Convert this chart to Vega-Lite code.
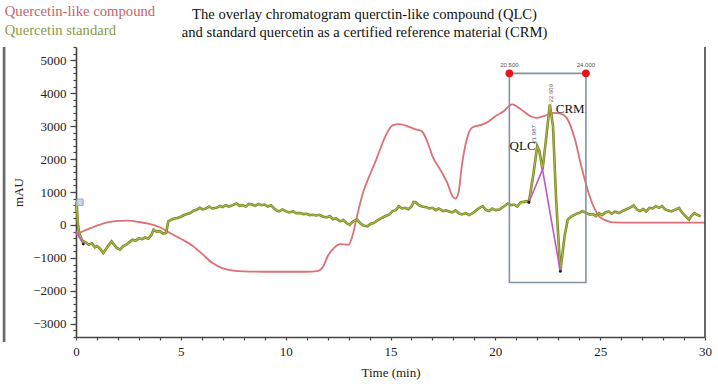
{
  "$schema": "https://vega.github.io/schema/vega-lite/v6.json",
  "width": 629,
  "height": 290,
  "autosize": {"type": "none"},
  "padding": {"left": 76, "top": 47, "right": 13, "bottom": 47},
  "background": "white",
  "config": {"view": {"stroke": null}, "font": "Liberation Serif"},
  "title": {
    "text": ["The overlay chromatogram querctin-like compound (QLC)", "and standard quercetin as a certified reference material (CRM)"],
    "anchor": "middle",
    "dx": -26,
    "dy": 43,
    "offset": 8,
    "font": "Liberation Serif",
    "fontSize": 14.6,
    "fontWeight": "normal",
    "lineHeight": 18,
    "color": "#111111"
  },
  "datasets": {
    "qlc": [
      {"t":0,"v":-280},{"t":0.5,"v":-150},{"t":1,"v":-20},{"t":1.5,"v":80},{"t":2,"v":125},{"t":2.5,"v":130},{"t":3,"v":90},{"t":3.5,"v":30},{"t":4,"v":-70},{"t":4.5,"v":-250},{"t":5,"v":-420},{"t":5.6,"v":-650},{"t":6,"v":-870},{"t":6.5,"v":-1150},{"t":7,"v":-1320},{"t":7.5,"v":-1385},{"t":8,"v":-1410},{"t":9,"v":-1420},{"t":10,"v":-1420},{"t":11,"v":-1420},{"t":11.5,"v":-1400},{"t":11.8,"v":-1250},{"t":12,"v":-950},{"t":12.3,"v":-700},{"t":12.6,"v":-580},{"t":13,"v":-600},{"t":13.2,"v":-300},{"t":13.4,"v":260},{"t":13.7,"v":1000},{"t":14,"v":1500},{"t":14.3,"v":1950},{"t":14.5,"v":2290},{"t":14.8,"v":2750},{"t":15.1,"v":3020},{"t":15.4,"v":3060},{"t":15.8,"v":3000},{"t":16.2,"v":2900},{"t":16.5,"v":2840},{"t":16.8,"v":2450},{"t":17,"v":2090},{"t":17.4,"v":1650},{"t":17.7,"v":1290},{"t":17.95,"v":880},{"t":18.1,"v":800},{"t":18.25,"v":1000},{"t":18.4,"v":1780},{"t":18.6,"v":2500},{"t":18.9,"v":2960},{"t":19.4,"v":3050},{"t":19.7,"v":3150},{"t":20,"v":3300},{"t":20.4,"v":3450},{"t":20.8,"v":3660},{"t":21.2,"v":3520},{"t":21.6,"v":3330},{"t":21.95,"v":3250},{"t":22.3,"v":3300},{"t":22.8,"v":3400},{"t":23.1,"v":3380},{"t":23.4,"v":3250},{"t":23.8,"v":2590},{"t":24.1,"v":1780},{"t":24.5,"v":870},{"t":24.95,"v":260},{"t":25.3,"v":130},{"t":25.6,"v":80},{"t":26.5,"v":70},{"t":28,"v":70},{"t":30,"v":70}
    ],
    "std": [
      {"t":0,"v":450},{"t":0.03,"v":700},{"t":0.08,"v":100},{"t":0.15,"v":-250},{"t":0.3,"v":-480},{"t":0.45,"v":-520},{"t":0.6,"v":-600},{"t":0.75,"v":-560},{"t":0.9,"v":-680},{"t":1,"v":-640},{"t":1.15,"v":-720},{"t":1.3,"v":-850},{"t":1.4,"v":-760},{"t":1.55,"v":-620},{"t":1.7,"v":-500},{"t":1.8,"v":-580},{"t":1.95,"v":-700},{"t":2.1,"v":-750},{"t":2.25,"v":-640},{"t":2.4,"v":-600},{"t":2.55,"v":-520},{"t":2.7,"v":-450},{"t":2.85,"v":-480},{"t":3,"v":-400},{"t":3.15,"v":-430},{"t":3.3,"v":-380},{"t":3.45,"v":-420},{"t":3.6,"v":-300},{"t":3.7,"v":-140},{"t":3.85,"v":-200},{"t":4,"v":-190},{"t":4.15,"v":-260},{"t":4.3,"v":-240},{"t":4.4,"v":110},{"t":4.55,"v":160},{"t":4.7,"v":200},{"t":4.85,"v":210},{"t":5,"v":250},{"t":5.15,"v":300},{"t":5.3,"v":330},{"t":5.45,"v":360},{"t":5.6,"v":430},{"t":5.75,"v":460},{"t":5.9,"v":520},{"t":6.05,"v":470},{"t":6.2,"v":500},{"t":6.35,"v":560},{"t":6.5,"v":500},{"t":6.7,"v":520},{"t":6.85,"v":580},{"t":7,"v":540},{"t":7.15,"v":600},{"t":7.3,"v":560},{"t":7.5,"v":610},{"t":7.65,"v":650},{"t":7.8,"v":580},{"t":7.95,"v":600},{"t":8.1,"v":560},{"t":8.25,"v":640},{"t":8.4,"v":620},{"t":8.55,"v":580},{"t":8.7,"v":640},{"t":8.85,"v":600},{"t":9,"v":620},{"t":9.15,"v":560},{"t":9.3,"v":600},{"t":9.45,"v":500},{"t":9.6,"v":430},{"t":9.7,"v":410},{"t":9.85,"v":470},{"t":10,"v":420},{"t":10.15,"v":380},{"t":10.35,"v":410},{"t":10.5,"v":360},{"t":10.7,"v":360},{"t":10.85,"v":330},{"t":11,"v":340},{"t":11.15,"v":300},{"t":11.3,"v":310},{"t":11.45,"v":290},{"t":11.6,"v":310},{"t":11.8,"v":250},{"t":11.95,"v":230},{"t":12.1,"v":270},{"t":12.25,"v":180},{"t":12.4,"v":200},{"t":12.6,"v":110},{"t":12.75,"v":150},{"t":12.9,"v":60},{"t":13.05,"v":0},{"t":13.2,"v":100},{"t":13.4,"v":160},{"t":13.55,"v":60},{"t":13.7,"v":-20},{"t":13.9,"v":-40},{"t":14.05,"v":40},{"t":14.2,"v":60},{"t":14.4,"v":150},{"t":14.6,"v":220},{"t":14.8,"v":280},{"t":14.95,"v":320},{"t":15.1,"v":420},{"t":15.25,"v":450},{"t":15.4,"v":570},{"t":15.55,"v":500},{"t":15.7,"v":520},{"t":15.85,"v":480},{"t":16,"v":560},{"t":16.1,"v":700},{"t":16.2,"v":690},{"t":16.35,"v":600},{"t":16.5,"v":560},{"t":16.7,"v":540},{"t":16.85,"v":500},{"t":17,"v":520},{"t":17.15,"v":450},{"t":17.3,"v":500},{"t":17.5,"v":420},{"t":17.65,"v":440},{"t":17.8,"v":410},{"t":17.95,"v":380},{"t":18.1,"v":440},{"t":18.25,"v":360},{"t":18.4,"v":320},{"t":18.6,"v":360},{"t":18.75,"v":300},{"t":18.9,"v":350},{"t":19.1,"v":450},{"t":19.25,"v":520},{"t":19.4,"v":570},{"t":19.55,"v":460},{"t":19.7,"v":420},{"t":19.85,"v":500},{"t":20,"v":450},{"t":20.2,"v":470},{"t":20.4,"v":560},{"t":20.6,"v":650},{"t":20.75,"v":600},{"t":20.9,"v":620},{"t":21.05,"v":560},{"t":21.2,"v":680},{"t":21.35,"v":700},{"t":21.5,"v":720},{"t":21.6,"v":690},{"t":21.8,"v":1480},{"t":22,"v":2390},{"t":22.1,"v":2250},{"t":22.25,"v":1680},{"t":22.4,"v":2500},{"t":22.6,"v":3660},{"t":22.75,"v":3000},{"t":22.9,"v":770},{"t":23.1,"v":-1410},{"t":23.3,"v":-350},{"t":23.45,"v":160},{"t":23.6,"v":250},{"t":23.75,"v":300},{"t":23.9,"v":350},{"t":24,"v":360},{"t":24.15,"v":420},{"t":24.3,"v":380},{"t":24.5,"v":310},{"t":24.65,"v":330},{"t":24.8,"v":270},{"t":24.95,"v":360},{"t":25.1,"v":300},{"t":25.25,"v":380},{"t":25.4,"v":410},{"t":25.55,"v":340},{"t":25.7,"v":400},{"t":25.9,"v":360},{"t":26.05,"v":420},{"t":26.2,"v":460},{"t":26.4,"v":520},{"t":26.6,"v":590},{"t":26.75,"v":470},{"t":26.9,"v":420},{"t":27.05,"v":480},{"t":27.2,"v":410},{"t":27.35,"v":520},{"t":27.5,"v":500},{"t":27.65,"v":570},{"t":27.8,"v":520},{"t":27.95,"v":570},{"t":28.1,"v":470},{"t":28.25,"v":440},{"t":28.4,"v":410},{"t":28.55,"v":460},{"t":28.76,"v":520},{"t":28.9,"v":380},{"t":29.08,"v":260},{"t":29.24,"v":160},{"t":29.35,"v":280},{"t":29.5,"v":360},{"t":29.65,"v":300},{"t":29.8,"v":260}
    ],
    "base": [
      {"g":1,"t":0,"v":-200},{"g":1,"t":0.35,"v":-580},
      {"g":2,"t":21.6,"v":690},{"g":2,"t":22.25,"v":1680},{"g":2,"t":23.1,"v":-1410}
    ],
    "ends": [
      {"t":0.35,"v":-580},{"t":21.6,"v":690},{"t":23.1,"v":-1410}
    ],
    "box": [{"t":20.67,"t2":24.32,"v":4600,"v2":-1745}],
    "corners": [{"t":20.67,"v":4600,"txt":"20.500"},{"t":24.32,"v":4600,"txt":"24.000"}],
    "peaks": [{"t":21.86,"v":2750,"txt":"21.987"},{"t":22.65,"v":4000,"txt":"22.609"}],
    "names": [{"t":21.3,"v":2410,"txt":"QLC"},{"t":23.57,"v":3530,"txt":"CRM"}]
  },
  "resolve": {"axis": {"x": "independent", "y": "independent"}, "scale": {"color": "independent"}},
  "layer": [
    {
      "data": {"name": "qlc"},
      "mark": {"type": "line", "color": "#dc6f77", "strokeWidth": 1.8, "interpolate": "monotone"},
      "encoding": {
        "x": {
          "field": "t", "type": "quantitative",
          "scale": {"domain": [0, 30], "nice": false, "zero": false},
          "axis": {
            "title": "Time (min)",
            "orient": "bottom",
            "values": [0,1,2,3,4,5,6,7,8,9,10,11,12,13,14,15,16,17,18,19,20,21,22,23,24,25,26,27,28,29,30],
            "labelExpr": "datum.value % 5 === 0 ? datum.label : ''",
            "labelOverlap": false,
            "labelFlush": false,
            "grid": false,
            "domainColor": "#444444", "domainWidth": 1.6,
            "tickColor": "#444444", "tickSize": 3, "tickWidth": 1.2,
            "labelFont": "Liberation Serif", "labelFontSize": 13, "labelColor": "#222222", "labelPadding": 5,
            "titleFont": "Liberation Serif", "titleFontSize": 13, "titleFontWeight": "normal", "titleColor": "#222222", "titlePadding": 8
          }
        },
        "y": {
          "field": "v", "type": "quantitative",
          "scale": {"domain": [-3400, 5400], "nice": false, "zero": false},
          "axis": {
            "title": "mAU",
            "orient": "left",
            "format": "d",
            "values": [-3000,-2000,-1000,0,1000,2000,3000,4000,5000],
            "grid": false,
            "domainColor": "#444444", "domainWidth": 1.6,
            "tickColor": "#444444", "tickSize": 6, "tickWidth": 1.2,
            "labelFont": "Liberation Serif", "labelFontSize": 13, "labelColor": "#222222", "labelPadding": 4,
            "titleFont": "Liberation Serif", "titleFontSize": 13, "titleFontWeight": "normal", "titleColor": "#222222", "titlePadding": 7
          }
        }
      }
    },
    {
      "data": {"values": [{}]},
      "mark": {"type": "rule", "color": "#6b6b6b", "strokeWidth": 2.7},
      "encoding": {
        "x": {"datum": -3.43, "type": "quantitative", "axis": null},
        "y": {"datum": 5400, "type": "quantitative", "axis": null},
        "y2": {"datum": -3550}
      }
    },
    {
      "data": {"values": [{}]},
      "mark": {"type": "rule", "color": "#444444", "strokeWidth": 1.6},
      "encoding": {
        "x": {"datum": 30, "type": "quantitative", "axis": null}
      }
    },
    {
      "data": {"name": "std"},
      "mark": {"type": "line", "color": "#76861f", "strokeWidth": 2.6},
      "encoding": {
        "x": {"field": "t", "type": "quantitative", "axis": null},
        "y": {"field": "v", "type": "quantitative", "axis": null}
      }
    },
    {
      "data": {"name": "std"},
      "mark": {"type": "line", "color": "#adb54e", "strokeWidth": 1.1},
      "encoding": {
        "x": {"field": "t", "type": "quantitative", "axis": null},
        "y": {"field": "v", "type": "quantitative", "axis": null}
      }
    },
    {
      "data": {"name": "base"},
      "mark": {"type": "line", "color": "#c455c4", "strokeWidth": 1.6},
      "encoding": {
        "x": {"field": "t", "type": "quantitative", "axis": null},
        "y": {
          "field": "v", "type": "quantitative",
          "axis": {
            "orient": "left",
            "title": null,
            "labels": false,
            "domain": false,
            "grid": false,
            "values": [-3400,-3200,-3000,-2800,-2600,-2400,-2200,-2000,-1800,-1600,-1400,-1200,-1000,-800,-600,-400,-200,0,200,400,600,800,1000,1200,1400,1600,1800,2000,2200,2400,2600,2800,3000,3200,3400,3600,3800,4000,4200,4400,4600,4800,5000,5200,5400],
            "tickColor": "#444444", "tickSize": 3, "tickWidth": 1.2
          }
        },
        "detail": {"field": "g", "type": "nominal"}
      }
    },
    {
      "data": {"name": "ends"},
      "mark": {"type": "circle", "color": "#222222", "size": 8, "opacity": 1},
      "encoding": {
        "x": {"field": "t", "type": "quantitative", "axis": null},
        "y": {"field": "v", "type": "quantitative", "axis": null}
      }
    },
    {
      "data": {"name": "box"},
      "mark": {"type": "rect", "filled": false, "stroke": "#8593a0", "strokeWidth": 1.6},
      "encoding": {
        "x": {"field": "t", "type": "quantitative", "axis": null},
        "x2": {"field": "t2"},
        "y": {"field": "v", "type": "quantitative", "axis": null},
        "y2": {"field": "v2"}
      }
    },
    {
      "data": {"name": "corners"},
      "mark": {"type": "circle", "color": "#e3161c", "size": 60, "opacity": 1},
      "encoding": {
        "x": {"field": "t", "type": "quantitative", "axis": null},
        "y": {"field": "v", "type": "quantitative", "axis": null}
      }
    },
    {
      "data": {"name": "corners"},
      "mark": {"type": "text", "fontSize": 6, "dy": -8, "color": "#555555", "font": "Liberation Sans"},
      "encoding": {
        "x": {"field": "t", "type": "quantitative", "axis": null},
        "y": {"field": "v", "type": "quantitative", "axis": null},
        "text": {"field": "txt"}
      }
    },
    {
      "data": {"name": "peaks"},
      "mark": {"type": "text", "fontSize": 6, "angle": 270, "color": "#666666", "font": "Liberation Sans"},
      "encoding": {
        "x": {"field": "t", "type": "quantitative", "axis": null},
        "y": {"field": "v", "type": "quantitative", "axis": null},
        "text": {"field": "txt"}
      }
    },
    {
      "data": {"name": "names"},
      "mark": {"type": "text", "fontSize": 13, "color": "#111111", "font": "Liberation Serif"},
      "encoding": {
        "x": {"field": "t", "type": "quantitative", "axis": null},
        "y": {"field": "v", "type": "quantitative", "axis": null},
        "text": {"field": "txt"}
      }
    },
    {
      "data": {"values": [{"t": 0.19, "v": 690}]},
      "mark": {"type": "square", "filled": true, "fill": "#c9d6e3", "stroke": "#9aabbd", "strokeWidth": 1, "size": 40, "opacity": 1},
      "encoding": {
        "x": {"field": "t", "type": "quantitative", "axis": null},
        "y": {"field": "v", "type": "quantitative", "axis": null}
      }
    },
    {
      "data": {"values": [{"n": "Quercetin-like compound"}]},
      "mark": {"type": "point", "opacity": 0, "size": 0},
      "encoding": {
        "x": {"datum": 0, "type": "quantitative", "axis": null},
        "y": {"datum": 0, "type": "quantitative", "axis": null},
        "color": {
          "field": "n", "type": "nominal",
          "scale": {"domain": ["Quercetin-like compound"], "range": ["#c5636c"]},
          "legend": {
            "orient": "none", "legendX": -86, "legendY": -42, "title": null, "padding": 0,
            "symbolSize": 0, "symbolOpacity": 0, "symbolStrokeWidth": 0, "labelOffset": 0,
            "labelFont": "Liberation Serif", "labelFontSize": 14.7, "labelLimit": 400, "labelColor": "#c5636c"
          }
        }
      }
    },
    {
      "data": {"values": [{"n": "Quercetin standard"}]},
      "mark": {"type": "point", "opacity": 0, "size": 0},
      "encoding": {
        "x": {"datum": 0, "type": "quantitative", "axis": null},
        "y": {"datum": 0, "type": "quantitative", "axis": null},
        "color": {
          "field": "n", "type": "nominal",
          "scale": {"domain": ["Quercetin standard"], "range": ["#8b9a48"]},
          "legend": {
            "orient": "none", "legendX": -86, "legendY": -23, "title": null, "padding": 0,
            "symbolSize": 0, "symbolOpacity": 0, "symbolStrokeWidth": 0, "labelOffset": 0,
            "labelFont": "Liberation Serif", "labelFontSize": 14.7, "labelLimit": 400, "labelColor": "#8b9a48"
          }
        }
      }
    }
  ]
}
